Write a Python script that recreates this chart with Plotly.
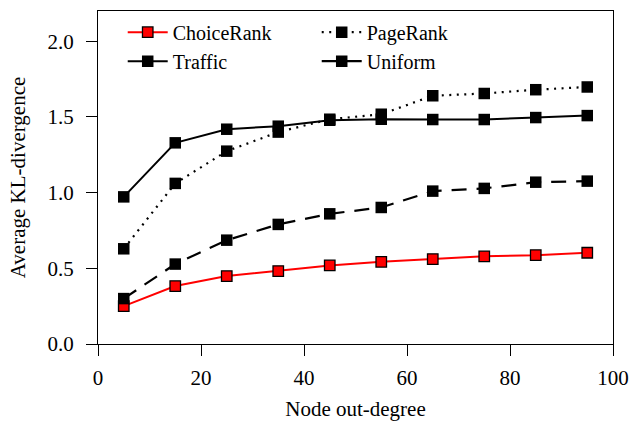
import plotly.graph_objects as go

degree = [5, 15, 25, 35, 45, 55, 65, 75, 85, 95]
choicerank = [0.25, 0.383, 0.449, 0.482, 0.519, 0.543, 0.561, 0.579, 0.587, 0.603]
pagerank = [0.629, 1.061, 1.274, 1.40, 1.485, 1.518, 1.64, 1.655, 1.68, 1.698]
traffic = [0.972, 1.329, 1.419, 1.439, 1.478, 1.485, 1.483, 1.483, 1.496, 1.509]
uniform = [0.30, 0.528, 0.686, 0.79, 0.86, 0.902, 1.01, 1.028, 1.069, 1.076]

FONT = "Liberation Serif"
MS = 11.5

fig = go.Figure()
fig.add_trace(go.Scatter(x=degree, y=choicerank, name="ChoiceRank", mode="lines+markers",
                         line=dict(color="#ff0000", width=2),
                         marker=dict(symbol="square", size=MS - 1, color="#ff0000",
                                     line=dict(color="black", width=1.3))))
fig.add_trace(go.Scatter(x=degree, y=pagerank, name="PageRank", mode="lines+markers",
                         line=dict(color="black", width=2.2, dash="2px,5.5px"),
                         marker=dict(symbol="square", size=MS, color="black")))
fig.add_trace(go.Scatter(x=degree, y=traffic, name="Traffic", mode="lines+markers",
                         line=dict(color="black", width=2),
                         marker=dict(symbol="square", size=MS, color="black")))
fig.add_trace(go.Scatter(x=degree, y=uniform, name="Uniform", mode="lines+markers",
                         line=dict(color="black", width=2.2, dash="15px,10px"),
                         marker=dict(symbol="square", size=MS, color="black")))

axis_common = dict(showgrid=False, zeroline=False, showline=True, linecolor="black",
                   linewidth=1.3, mirror=True, ticks="outside", ticklen=11,
                   tickcolor="black", tickwidth=1.3, automargin=False,
                   tickfont=dict(family=FONT, size=21, color="black"))

fig.update_layout(
    width=632, height=421,
    margin=dict(l=98, r=19, t=11, b=77),
    paper_bgcolor="white", plot_bgcolor="white",
    font=dict(family=FONT, color="black"),
    xaxis=dict(range=[0, 100], tickvals=[0, 20, 40, 60, 80, 100], ticklabelstandoff=4,
               title=dict(text="Node out-degree", font=dict(family=FONT, size=21), standoff=13),
               **axis_common),
    yaxis=dict(range=[0, 2.2], tickvals=[0, 0.5, 1.0, 1.5, 2.0], tickformat=".1f",
               ticklabelstandoff=8,
               title=dict(text="Average KL-divergence", font=dict(family=FONT, size=21), standoff=16),
               **axis_common),
    legend=dict(orientation="h", x=0.048, y=0.995, xanchor="left", yanchor="top",
                entrywidth=139, entrywidthmode="pixels",
                font=dict(family=FONT, size=20, color="black"),
                bgcolor="rgba(0,0,0,0)", tracegroupgap=0, itemwidth=40),
    showlegend=True,
)

fig.write_html("out.html", config={"displayModeBar": False},
               post_script="document.body.style.margin='0';document.body.style.padding='0';")
